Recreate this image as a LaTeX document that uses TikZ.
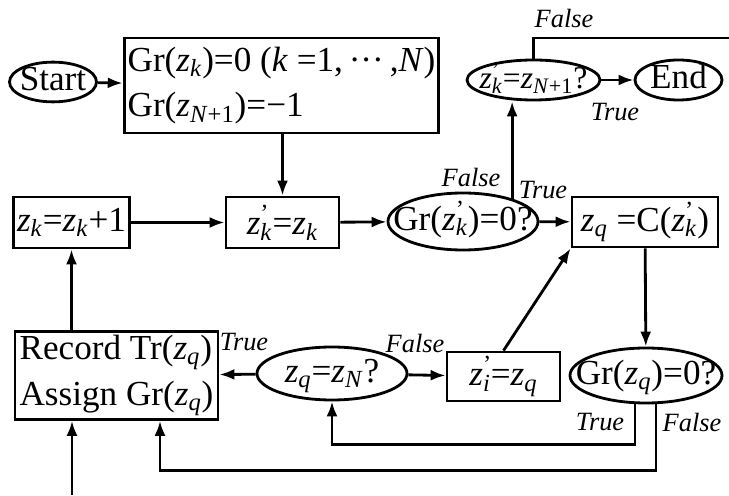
\documentclass[tikz,border=0pt]{standalone}
\usepackage{fontspec}
\setmainfont{Liberation Serif}
\usepackage{tikz}
\usetikzlibrary{arrows.meta,positioning,calc,shapes.geometric}
\newcommand{\vz}{\textit{z}}
\newcommand{\lo}[1]{\textsubscript{\textit{#1}}}
\newcommand{\pl}[1]{\rlap{\textsuperscript{'}}\textsubscript{\textit{#1}}}

\begin{document}
\begin{tikzpicture}[
 font=\fontsize{20}{26}\selectfont,
 box/.style={draw,line width=1.6pt,fill=white,inner sep=2pt,minimum height=1.02cm,align=center},
 test/.style={draw,ellipse,line width=1.6pt,fill=white,inner sep=0pt,text height=13pt,text depth=3pt,
   execute at begin node=\hbox to 0pt\bgroup\hss,execute at end node=\hss\egroup},
 lab/.style={font=\fontsize{15}{18}\selectfont\itshape},
 arr/.style={-{Latex[length=3mm,width=2.2mm]},line width=1.6pt}
]
\useasboundingbox (0,0) rectangle (14.58,9.9);
\node[test,minimum width=1.74cm,minimum height=0.76cm] (start) at (1.06,8.26) {Start};
\node[box,minimum width=6.06cm,minimum height=1.9cm,align=left] (init) at (5.63,8.19)
  {Gr(\vz\lo{k})=0 (\textit{k} =1,\,···\,,\textit{N})\\Gr(\vz\textsubscript{\textit{N}+1})=−1};
\node[box,minimum width=2.26cm] (zk1) at (1.43,5.45) {\vz\lo{k}=\vz\lo{k}+1};
\node[box,minimum width=2.26cm] (zkp) at (5.65,5.45) {\vz\pl{k}=\vz\lo{k}};
\node[test,minimum width=3.0cm,minimum height=1.14cm] (gra) at (9.26,5.47) {Gr(\vz\pl{k})=0?};
\node[box,minimum width=2.92cm,minimum height=1.0cm] (zqc) at (12.9,5.46) {\vz\lo{q} =C(\vz\pl{k})};
\node[test,minimum width=2.66cm,minimum height=0.8cm,font=\fontsize{18}{22}\selectfont] (zkn) at (10.67,8.3)
  {\vz\pl{k}=\vz\textsubscript{\textit{N}+1}?};
\node[test,minimum width=1.74cm,minimum height=0.8cm] (end) at (13.57,8.3) {End};
\node[box,minimum width=4.06cm,minimum height=1.74cm,align=left] (rec) at (2.33,2.39)
  {Record Tr(\vz\lo{q})\\Assign Gr(\vz\lo{q})};
\node[test,minimum width=3.0cm,minimum height=1.06cm] (zqn) at (6.64,2.43) {\vz\lo{q}=\vz\lo{N}?};
\node[box,minimum width=2.26cm,minimum height=0.98cm] (zi) at (10.07,2.37) {\vz\pl{i}=\vz\lo{q}};
\node[test,minimum width=3.04cm,minimum height=1.1cm] (grq) at (12.92,2.39) {Gr(\vz\lo{q})=0?};
\coordinate (out) at (14.58,9.14);
\coordinate (in) at (1.44,0);

\draw[arr] (start)--(init);
\draw[arr] (init.south -| zkp) -- (zkp);
\draw[arr] (zk1)--(zkp);
\draw[arr] (zkp)--(gra);
\draw[arr] (gra)--(zqc);
\draw[arr] (gra.25) -- (gra.25 |- zkn.south);
\draw[arr] (zkn)--(end);
\draw[line width=1.6pt] (zkn.north) |- (out);
\draw[arr] (zqc)--(grq);
\draw[arr] (zi.north)--(zqc.south west);
\draw[arr] ([xshift=-2.2mm]grq.south) -- ++(0,-0.8) -| (zqn.south);
\draw[arr] ([xshift=2mm]grq.south) -- ++(0,-1.32) -| ([xshift=8.7mm]rec.south);
\draw[arr] (zqn)--(zi);
\draw[arr] (zqn)--(rec);
\draw[arr] (in) -- (in |- rec.south);
\draw[arr] (zk1.south |- rec.north) -- (zk1.south);

\node[lab] (f1) at (11.28,9.54) {False};
\node[lab] (t1) at (12.3,7.66) {True};
\node[lab] (f2) at (9.42,6.36) {False};
\node[lab] (t2) at (10.86,6.1) {True};
\node[lab] (t3) at (4.88,3.06) {True};
\node[lab] (f3) at (8.3,3.04) {False};
\node[lab] (t4) at (12.0,1.46) {True};
\node[lab] (f4) at (13.84,1.46) {False};
\end{tikzpicture}
\end{document}
